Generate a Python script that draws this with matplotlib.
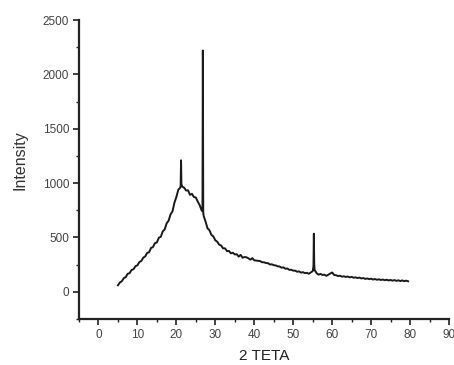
import matplotlib
matplotlib.use("Agg")
import matplotlib.pyplot as plt
from matplotlib.ticker import MultipleLocator

two_theta = [
    5.0, 5.5, 6.0, 6.5, 7.0, 7.5, 8.0, 8.5, 9.0, 9.5,
    10.0, 10.5, 11.0, 11.5, 12.0, 12.5, 13.0, 13.5, 14.0, 14.5,
    15.0, 15.5, 16.0, 16.5, 17.0, 17.5, 18.0, 18.5, 19.0, 19.5,
    20.0, 20.5, 21.0, 21.1, 21.2, 21.3, 21.5, 22.0, 22.5, 23.0,
    23.5, 24.0, 24.5, 25.0, 25.5, 26.0, 26.5, 26.7, 26.8, 26.9,
    27.0, 27.5, 28.0, 28.5, 29.0, 29.5, 30.0, 30.5, 31.0, 31.5,
    32.0, 32.5, 33.0, 33.5, 34.0, 34.5, 35.0, 35.5, 36.0, 36.5,
    37.0, 37.5, 38.0, 38.5, 39.0, 39.5, 40.0, 40.5, 41.0, 41.5,
    42.0, 42.5, 43.0, 43.5, 44.0, 44.5, 45.0, 45.5, 46.0, 46.5,
    47.0, 47.5, 48.0, 48.5, 49.0, 49.5, 50.0, 50.5, 51.0, 51.5,
    52.0, 52.5, 53.0, 53.5, 54.0, 54.5, 55.0, 55.2, 55.3, 55.4,
    55.5, 56.0, 56.5, 57.0, 57.5, 58.0, 58.5, 59.0, 59.5, 60.0,
    60.5, 61.0, 61.5, 62.0, 62.5, 63.0, 63.5, 64.0, 64.5, 65.0,
    65.5, 66.0, 66.5, 67.0, 67.5, 68.0, 68.5, 69.0, 69.5, 70.0,
    70.5, 71.0, 71.5, 72.0, 72.5, 73.0, 73.5, 74.0, 74.5, 75.0,
    75.5, 76.0, 76.5, 77.0, 77.5, 78.0, 78.5, 79.0, 79.5,
]
intensity = [
    60, 86, 98, 126, 136, 166, 172, 201, 208, 236,
    244, 274, 284, 314, 326, 358, 364, 404, 412, 448,
    454, 498, 506, 556, 574, 630, 654, 712, 740, 820,
    872, 940, 958, 978, 1210, 990, 968, 958, 932, 934,
    892, 902, 872, 868, 830, 796, 748, 742, 2220, 730,
    700, 646, 584, 566, 524, 510, 474, 461, 434, 426,
    400, 400, 374, 376, 354, 360, 344, 346, 324, 340,
    314, 320, 318, 308, 296, 310, 290, 288, 287, 283,
    272, 272, 265, 264, 252, 253, 245, 243, 235, 233,
    222, 225, 212, 215, 202, 203, 195, 195, 185, 188,
    177, 181, 172, 175, 166, 178, 190, 235, 535, 250,
    200, 172, 158, 165, 155, 158, 147, 158, 168, 178,
    155, 153, 145, 148, 140, 143, 137, 141, 133, 138,
    130, 133, 127, 131, 123, 127, 119, 123, 117, 121,
    113, 118, 111, 115, 109, 113, 107, 111, 105, 109,
    103, 108, 101, 106, 99, 105, 98, 103, 97,
]

x_ticks = [0, 10, 20, 30, 40, 50, 60, 70, 80, 90]
y_ticks = [0, 500, 1000, 1500, 2000, 2500]

plt.rcParams['font.family'] = ['Liberation Sans', 'DejaVu Sans']

fig = plt.figure(figsize=(4.54, 3.65), dpi=100)
ax = fig.add_axes([0.174, 0.126, 0.815, 0.819])
ax.plot(two_theta, intensity, color='#1a1a1a', lw=1.4)

ax.set_xlim(-5, 90)
ax.set_ylim(-250, 2500)
ax.set_xticks(x_ticks)
ax.set_yticks(y_ticks)
ax.xaxis.set_minor_locator(MultipleLocator(5))
ax.yaxis.set_minor_locator(MultipleLocator(250))
for s in ['top', 'right']:
    ax.spines[s].set_visible(False)
for s in ['left', 'bottom']:
    ax.spines[s].set_linewidth(1.6)
    ax.spines[s].set_color('#222222')
ax.tick_params(which='major', direction='out', length=4, width=1.2,
               labelsize=8.5, labelcolor='#444444', color='#222222', pad=3)
ax.tick_params(which='minor', direction='out', length=2.5, width=1.0, color='#222222')
ax.set_xlabel('2 TETA', fontsize=11, color='#222222', labelpad=6)
ax.set_ylabel('Intensity', fontsize=11.5, color='#333333')
ax.yaxis.set_label_coords(-0.14, 0.53)

fig.savefig('out.png', dpi=100)
